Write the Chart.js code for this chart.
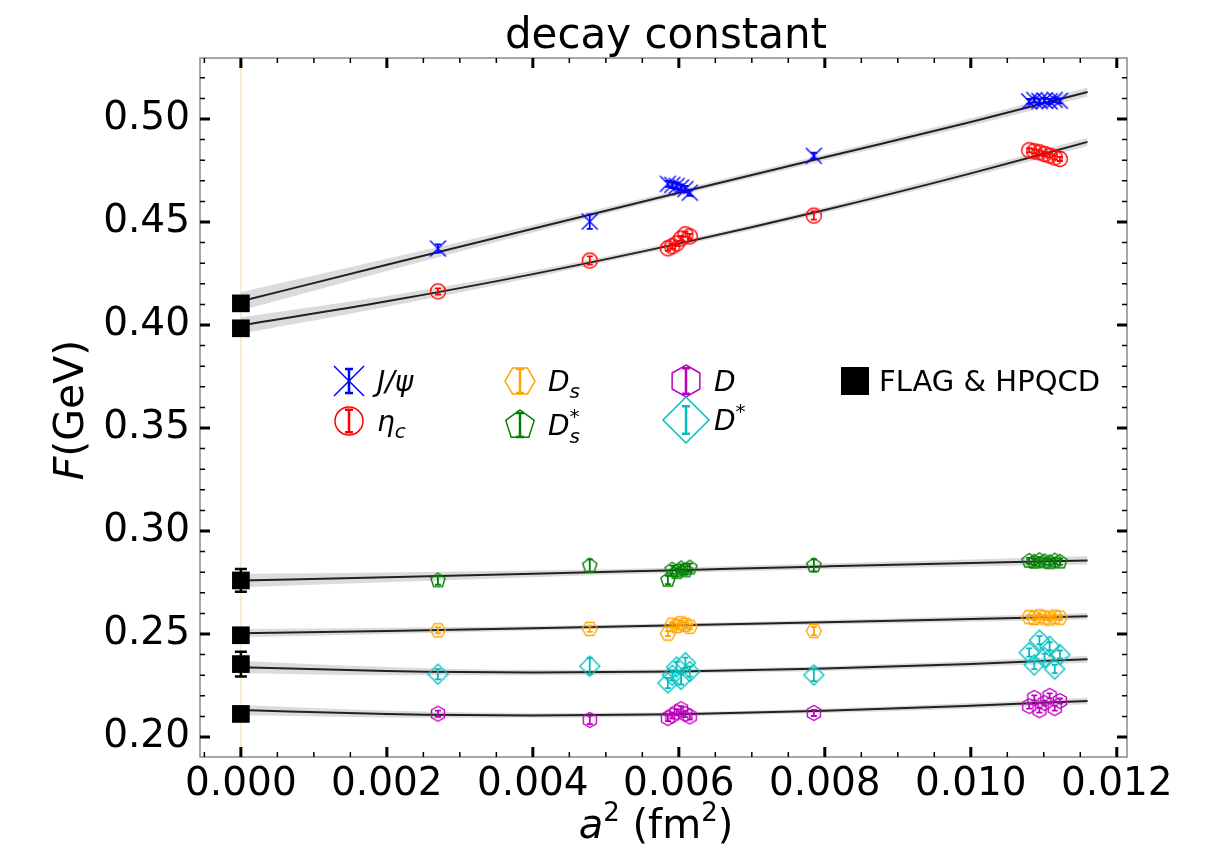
<!DOCTYPE html>
<html>
<head>
<meta charset="utf-8">
<script src="https://cdn.jsdelivr.net/npm/chart.js@4.4.1/dist/chart.umd.min.js"></script>
<style>
  html, body { margin: 0; padding: 0; background: #fff; }
</style>
</head>
<body>
<canvas id="decayChart" width="1230" height="850"></canvas>
<script>
// lattice spacings (a^2 in fm^2), shared by every meson series
const aSq = [0.00270, 0.00478, 0.00585, 0.00591, 0.00597, 0.00603, 0.00609, 0.00615, 0.00785,
             0.01080, 0.01087, 0.01094, 0.01101, 0.01108, 0.01115, 0.01122];

const jpsiF   = [0.4371, 0.4502, 0.4685, 0.4680, 0.4675, 0.4668, 0.4660, 0.4642, 0.4821,
                 0.5085, 0.5092, 0.5087, 0.5090, 0.5086, 0.5093, 0.5088];
const jpsiErr = [0.0020, 0.0035, 0.0015, 0.0015, 0.0015, 0.0015, 0.0015, 0.0015, 0.0015,
                 0.0012, 0.0012, 0.0012, 0.0012, 0.0012, 0.0012, 0.0012];

const etacF   = [0.4163, 0.4313, 0.4372, 0.4382, 0.4395, 0.4420, 0.4440, 0.4430, 0.4531,
                 0.4848, 0.4843, 0.4838, 0.4830, 0.4822, 0.4813, 0.4806];
const etacErr = [0.0015, 0.0020, 0.0012, 0.0012, 0.0012, 0.0012, 0.0012, 0.0012, 0.0020,
                 0.0010, 0.0010, 0.0010, 0.0010, 0.0010, 0.0010, 0.0010];

const dsF     = [0.2518, 0.2525, 0.2502, 0.2545, 0.2538, 0.2552, 0.2544, 0.2535, 0.2515,
                 0.2582, 0.2578, 0.2586, 0.2580, 0.2575, 0.2584, 0.2579];
const dsErr   = [0.0015, 0.0015, 0.0012, 0.0012, 0.0012, 0.0012, 0.0012, 0.0012, 0.0020,
                 0.0010, 0.0010, 0.0010, 0.0010, 0.0010, 0.0010, 0.0010];

const dsStarF   = [0.2760, 0.2832, 0.2762, 0.2812, 0.2800, 0.2818, 0.2808, 0.2822, 0.2833,
                   0.2855, 0.2850, 0.2858, 0.2852, 0.2848, 0.2856, 0.2851];
const dsStarErr = [0.0020, 0.0030, 0.0020, 0.0020, 0.0020, 0.0020, 0.0020, 0.0020, 0.0030,
                   0.0015, 0.0015, 0.0015, 0.0015, 0.0015, 0.0015, 0.0015];

const dF      = [0.2113, 0.2083, 0.2092, 0.2105, 0.2120, 0.2135, 0.2112, 0.2100, 0.2117,
                 0.2150, 0.2190, 0.2130, 0.2165, 0.2200, 0.2140, 0.2175];
const dErr    = [0.0015, 0.0020, 0.0015, 0.0015, 0.0015, 0.0015, 0.0015, 0.0015, 0.0015,
                 0.0012, 0.0012, 0.0012, 0.0012, 0.0012, 0.0012, 0.0012];

const dStarF   = [0.2305, 0.2344, 0.2262, 0.2300, 0.2340, 0.2280, 0.2360, 0.2318, 0.2301,
                  0.2410, 0.2350, 0.2470, 0.2385, 0.2440, 0.2330, 0.2400];
const dStarErr = [0.0025, 0.0040, 0.0025, 0.0025, 0.0025, 0.0025, 0.0025, 0.0025, 0.0030,
                  0.0020, 0.0020, 0.0020, 0.0020, 0.0020, 0.0020, 0.0020];

// continuum fits, with half-width of the grey bands
const fitX      = [0, 0.002, 0.004, 0.006, 0.008, 0.010, 0.0116];
const fitJpsi   = [0.4115, 0.4292, 0.4467, 0.4642, 0.4814, 0.4985, 0.5131];
const bandJpsi  = [0.0045, 0.0030, 0.0018, 0.0014, 0.0015, 0.0018, 0.0022];
const fitEtac   = [0.3998, 0.4115, 0.4247, 0.4395, 0.4558, 0.4736, 0.4889];
const bandEtac  = [0.0040, 0.0026, 0.0016, 0.0013, 0.0014, 0.0017, 0.0020];
const fitDsStar = [0.2760, 0.2775, 0.2792, 0.2810, 0.2828, 0.2845, 0.2857];
const bandDsStar= [0.0033, 0.0024, 0.0016, 0.0013, 0.0014, 0.0017, 0.0020];
const fitDs     = [0.2504, 0.2515, 0.2528, 0.2542, 0.2557, 0.2573, 0.2586];
const bandDs    = [0.0020, 0.0015, 0.0011, 0.0010, 0.0011, 0.0013, 0.0016];
const fitDStar  = [0.2339, 0.2320, 0.2313, 0.2318, 0.2332, 0.2355, 0.2378];
const bandDStar = [0.0030, 0.0020, 0.0013, 0.0011, 0.0012, 0.0014, 0.0017];
const fitD      = [0.2131, 0.2112, 0.2105, 0.2110, 0.2127, 0.2152, 0.2175];
const bandD     = [0.0025, 0.0017, 0.0012, 0.0010, 0.0011, 0.0013, 0.0016];

// FLAG & HPQCD values at a^2 = 0
const flagX   = [0, 0, 0, 0, 0, 0];
const flagF   = [0.4105, 0.3984, 0.2760, 0.2494, 0.2354, 0.2112];
const flagErr = [0.0020, 0.0020, 0.0055, 0.0015, 0.0060, 0.0015];

const xTicks = [0.000, 0.002, 0.004, 0.006, 0.008, 0.010, 0.012];
const yTicks = [0.20, 0.25, 0.30, 0.35, 0.40, 0.45, 0.50];

const FONT = '"DejaVu Sans", sans-serif';

function drawShape(ctx, kind, x, y, r, color, lw) {
    ctx.save();
    ctx.strokeStyle = color;
    ctx.lineWidth = lw;
    ctx.beginPath();
    if (kind === 'circle') {
        ctx.arc(x, y, r, 0, 2 * Math.PI);
    } else if (kind === 'cross') {
        ctx.moveTo(x - r, y - r); ctx.lineTo(x + r, y + r);
        ctx.moveTo(x + r, y - r); ctx.lineTo(x - r, y + r);
    } else {
        let n = 6, a0 = 0;
        if (kind === 'hexV') { n = 6; a0 = -Math.PI / 2; }
        if (kind === 'pent') { n = 5; a0 = -Math.PI / 2; }
        if (kind === 'diamond') { n = 4; a0 = -Math.PI / 2; }
        for (let i = 0; i < n; i++) {
            const a = a0 + 2 * Math.PI * i / n;
            const px = x + r * Math.cos(a), py = y + r * Math.sin(a);
            if (i === 0) ctx.moveTo(px, py); else ctx.lineTo(px, py);
        }
        ctx.closePath();
    }
    ctx.stroke();
    ctx.restore();
}

function markerImage(kind, r, color, lw) {
    const c = document.createElement('canvas');
    const s = Math.ceil(2 * r + 2 * lw + 2);
    c.width = s; c.height = s;
    drawShape(c.getContext('2d'), kind, s / 2, s / 2, r, color, lw);
    return c;
}

const series = [
    { y: jpsiF,   err: jpsiErr,   color: '#0000ff', kind: 'cross',   r: 8,   fit: fitJpsi,   band: bandJpsi },
    { y: etacF,   err: etacErr,   color: '#ff0000', kind: 'circle',  r: 7.5, fit: fitEtac,   band: bandEtac },
    { y: dsF,     err: dsErr,     color: '#ffa500', kind: 'hexH',    r: 7.5, fit: fitDs,     band: bandDs },
    { y: dsStarF, err: dsStarErr, color: '#008000', kind: 'pent',    r: 7.5, fit: fitDsStar, band: bandDsStar },
    { y: dF,      err: dErr,      color: '#bf00bf', kind: 'hexV',    r: 7.5, fit: fitD,      band: bandD },
    { y: dStarF,  err: dStarErr,  color: '#00bfbf', kind: 'diamond', r: 10,  fit: fitDStar,  band: bandDStar }
];

const datasets = [];
// faint reference line at a^2 = 0
datasets.push({
    data: [{ x: 0, y: 0.18 }, { x: 0, y: 0.54 }],
    showLine: true, borderColor: 'rgba(240, 200, 120, 0.45)', borderWidth: 1.5,
    pointRadius: 0, order: 30
});
series.forEach(s => {
    datasets.push({
        data: fitX.map((x, i) => ({ x, y: s.fit[i] - s.band[i] })),
        showLine: true, borderWidth: 0, borderColor: 'rgba(0,0,0,0)', pointRadius: 0,
        cubicInterpolationMode: 'monotone', fill: false, order: 20
    });
    datasets.push({
        data: fitX.map((x, i) => ({ x, y: s.fit[i] + s.band[i] })),
        showLine: true, borderWidth: 0, borderColor: 'rgba(0,0,0,0)', pointRadius: 0,
        cubicInterpolationMode: 'monotone', fill: '-1', backgroundColor: 'rgba(0,0,0,0.14)', order: 20
    });
    datasets.push({
        data: fitX.map((x, i) => ({ x, y: s.fit[i] })),
        showLine: true, borderColor: 'rgba(0,0,0,0.85)', borderWidth: 2,
        pointRadius: 0, cubicInterpolationMode: 'monotone', order: 10
    });
});
series.forEach(s => {
    datasets.push({
        data: aSq.map((x, i) => ({ x, y: s.y[i] })),
        pointStyle: markerImage(s.kind, s.r, s.color, 1.4),
        pointRadius: s.r, errors: s.err, errColor: s.color, errWidth: 1.8, cap: 3,
        order: 2
    });
});
datasets.push({
    data: flagX.map((x, i) => ({ x, y: flagF[i] })),
    pointStyle: 'rect', pointRadius: 12.5, backgroundColor: '#000', borderColor: '#000', borderWidth: 0,
    errors: flagErr, errColor: '#000', errWidth: 2.5, cap: 6, order: 1
});

const errorBars = {
    id: 'errorBars',
    afterDatasetsDraw(chart) {
        const { ctx, chartArea: a, scales: { x, y } } = chart;
        ctx.save();
        ctx.beginPath(); ctx.rect(a.left, a.top, a.right - a.left, a.bottom - a.top); ctx.clip();
        chart.data.datasets.forEach(ds => {
            if (!ds.errors) return;
            ctx.strokeStyle = ds.errColor;
            ctx.lineWidth = ds.errWidth;
            ds.data.forEach((p, i) => {
                const px = x.getPixelForValue(p.x);
                const y1 = y.getPixelForValue(p.y - ds.errors[i]);
                const y2 = y.getPixelForValue(p.y + ds.errors[i]);
                ctx.beginPath();
                ctx.moveTo(px, y1); ctx.lineTo(px, y2);
                ctx.moveTo(px - ds.cap, y1); ctx.lineTo(px + ds.cap, y1);
                ctx.moveTo(px - ds.cap, y2); ctx.lineTo(px + ds.cap, y2);
                ctx.stroke();
            });
        });
        ctx.restore();
    }
};

function drawRuns(ctx, runs, x, y) {
    let cx = x;
    runs.forEach(r => {
        ctx.font = (r.it ? 'italic ' : '') + r.size + 'px ' + FONT;
        ctx.fillText(r.t, cx, y + (r.dy || 0));
        if (!r.stay) cx += ctx.measureText(r.t).width;
    });
    return cx - x;
}

const legendItems = [
    { kind: 'cross',   color: '#0000ff', r: 15, mx: 349, my: 381, runs: [{ t: 'J/ψ', it: true, size: 28 }] },
    { kind: 'circle',  color: '#ff0000', r: 14, mx: 349, my: 421, runs: [{ t: 'η', it: true, size: 28 }, { t: 'c', it: true, size: 20, dy: 7 }] },
    { kind: 'hexH',    color: '#ffa500', r: 15, mx: 520, my: 381, runs: [{ t: 'D', it: true, size: 28 }, { t: 's', it: true, size: 20, dy: 7 }] },
    { kind: 'pent',    color: '#008000', r: 15, mx: 520, my: 425, runs: [{ t: 'D', it: true, size: 28 }, { t: 's', it: true, size: 20, dy: 8, stay: true }, { t: '*', size: 20, dy: -12 }] },
    { kind: 'hexV',    color: '#bf00bf', r: 16, mx: 686, my: 381, runs: [{ t: 'D', it: true, size: 28 }] },
    { kind: 'diamond', color: '#00bfbf', r: 23, mx: 686, my: 420, runs: [{ t: 'D', it: true, size: 28 }, { t: '*', size: 20, dy: -12 }] }
];

const decor = {
    id: 'decor',
    afterDraw(chart) {
        const { ctx, chartArea: a, scales: { x, y } } = chart;
        ctx.save();
        // frame
        ctx.strokeStyle = '#8a8a8a';
        ctx.lineWidth = 1.5;
        ctx.strokeRect(a.left, a.top, a.right - a.left, a.bottom - a.top);
        // inward ticks on all four sides
        ctx.strokeStyle = '#000';
        const xs = xTicks[1] - xTicks[0];
        for (let i = -1; i < xTicks.length; i++) {
            for (let k = 0; k < 4; k++) {
                const v = xTicks[0] + (i + k / 4) * xs;
                const px = x.getPixelForValue(v);
                if (px < a.left + 1 || px > a.right - 1) continue;
                const major = k === 0;
                const len = major ? 10 : 5;
                ctx.lineWidth = major ? 3 : 1.5;
                ctx.beginPath();
                ctx.moveTo(px, a.bottom); ctx.lineTo(px, a.bottom - len);
                ctx.moveTo(px, a.top); ctx.lineTo(px, a.top + len);
                ctx.stroke();
            }
        }
        const ys = yTicks[1] - yTicks[0];
        for (let i = -1; i < yTicks.length; i++) {
            for (let k = 0; k < 5; k++) {
                const v = yTicks[0] + (i + k / 5) * ys;
                const py = y.getPixelForValue(v);
                if (py < a.top + 1 || py > a.bottom - 1) continue;
                const major = k === 0;
                const len = major ? 10 : 5;
                ctx.lineWidth = major ? 3 : 1.5;
                ctx.beginPath();
                ctx.moveTo(a.left, py); ctx.lineTo(a.left + len, py);
                ctx.moveTo(a.right, py); ctx.lineTo(a.right - len, py);
                ctx.stroke();
            }
        }
        // title
        ctx.fillStyle = '#000';
        ctx.textAlign = 'center';
        ctx.textBaseline = 'alphabetic';
        ctx.font = '42px ' + FONT;
        ctx.fillText('decay constant', 666, 48);
        ctx.textAlign = 'left';
        // x axis title
        const xRuns = [{ t: 'a', it: true, size: 40 }, { t: '2', size: 26, dy: -17 }, { t: ' (fm', size: 40 }, { t: '2', size: 26, dy: -17 }, { t: ')', size: 40 }];
        ctx.save(); ctx.globalAlpha = 0;
        const xw = drawRuns(ctx, xRuns, 0, -100);
        ctx.restore();
        drawRuns(ctx, xRuns, 656 - xw / 2, 838);
        // y axis title
        ctx.save();
        ctx.translate(83, 410);
        ctx.rotate(-Math.PI / 2);
        const yRuns = [{ t: 'F', it: true, size: 41 }, { t: '(GeV)', size: 41 }];
        ctx.save(); ctx.globalAlpha = 0;
        const yw = drawRuns(ctx, yRuns, 0, -100);
        ctx.restore();
        drawRuns(ctx, yRuns, -yw / 2, 0);
        ctx.restore();
        // legend
        legendItems.forEach(it => {
            drawShape(ctx, it.kind, it.mx, it.my, it.r, it.color, 1.5);
            const h = it.kind === 'diamond' ? it.r * 0.6 : it.r * 0.8;
            ctx.strokeStyle = it.color;
            ctx.lineWidth = 2.5;
            ctx.beginPath();
            ctx.moveTo(it.mx, it.my - h); ctx.lineTo(it.mx, it.my + h);
            ctx.moveTo(it.mx - 4, it.my - h); ctx.lineTo(it.mx + 4, it.my - h);
            ctx.moveTo(it.mx - 4, it.my + h); ctx.lineTo(it.mx + 4, it.my + h);
            ctx.stroke();
            ctx.fillStyle = '#000';
            drawRuns(ctx, it.runs, it.mx + 28, it.my + 10);
        });
        ctx.fillStyle = '#000';
        ctx.fillRect(841, 367, 28, 28);
        ctx.font = '29px ' + FONT;
        ctx.fillText('FLAG & HPQCD', 879, 391);
        ctx.restore();
    }
};

new Chart(document.getElementById('decayChart'), {
    type: 'scatter',
    data: { datasets },
    options: {
        responsive: false,
        animation: false,
        layout: { padding: { left: 0, top: 58, right: 103, bottom: 0 } },
        plugins: { legend: { display: false }, tooltip: { enabled: false }, title: { display: false } },
        scales: {
            x: {
                type: 'linear', min: -0.00056, max: 0.01214,
                afterBuildTicks: s => { s.ticks = xTicks.map(v => ({ value: v })); },
                afterFit: s => { s.height = 93; },
                grid: { display: false, drawTicks: false },
                border: { display: false },
                ticks: {
                    padding: 4, color: '#000', font: { family: FONT, size: 39 },
                    maxRotation: 0, autoSkip: false,
                    callback: v => v.toFixed(3)
                }
            },
            y: {
                type: 'linear', min: 0.1903, max: 0.5296,
                afterBuildTicks: s => { s.ticks = yTicks.map(v => ({ value: v })); },
                afterFit: s => { s.width = 200; },
                grid: { display: false, drawTicks: false },
                border: { display: false },
                ticks: {
                    padding: 10, color: '#000', font: { family: FONT, size: 39 },
                    callback: v => v.toFixed(2)
                }
            }
        }
    },
    plugins: [errorBars, decor]
});
</script>
</body>
</html>
